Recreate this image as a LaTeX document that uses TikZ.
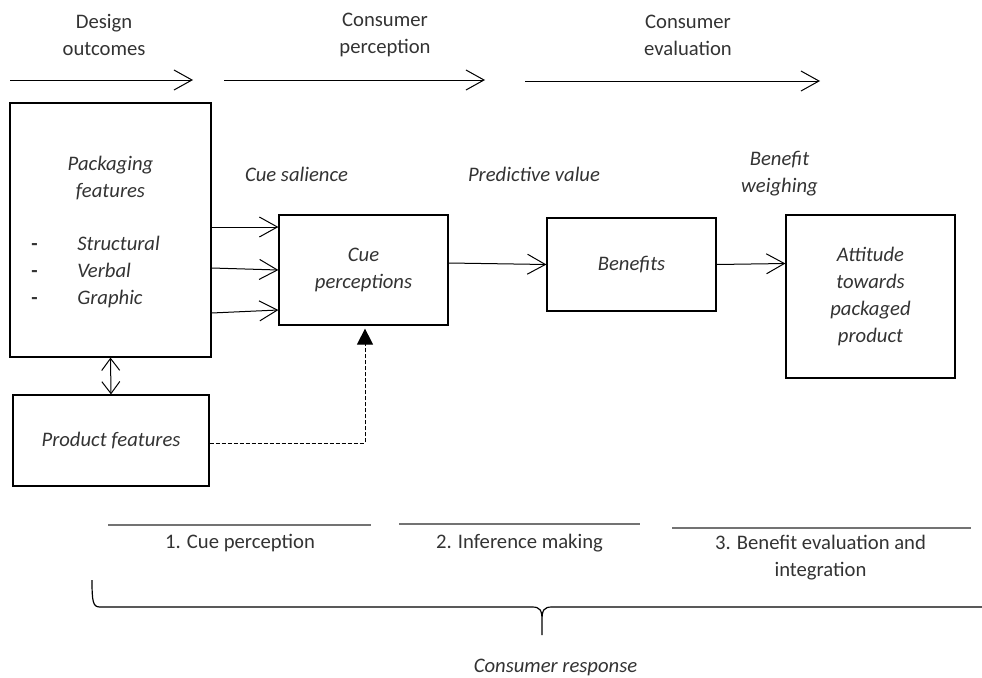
\documentclass[tikz,border=0pt]{standalone}
\usepackage{fontspec}
\setmainfont{Carlito}
\usetikzlibrary{arrows.meta, positioning, calc}
\newlength\pxu
\setlength\pxu{0.75pt}

\begin{document}
\begin{tikzpicture}[
    x=0.75pt, y=-0.75pt,
    every node/.style={text=black!80, font=\fontsize{15.5}{20.25}\selectfont, align=center, inner sep=0pt},
    box/.style={draw, line width=0.9pt, font=\fontsize{15.5}{20.25}\selectfont\itshape},
    note/.style={font=\fontsize{15.5}{20.25}\selectfont\itshape},
    flow/.style={-{Straight Barb[length=13.5pt, width=15pt]}, line width=0.75pt},
    biflow/.style={{Straight Barb[length=9pt, width=13.5pt]}-{Straight Barb[length=9pt, width=13.5pt]}, line width=0.75pt},
    hint/.style={dash pattern=on 3pt off 1.5pt, line width=0.75pt, -{Triangle[length=12pt, width=12pt]}},
    stage/.style={line width=1.5pt, draw=black!55}
]
\useasboundingbox (0,0) rectangle (982,678);

\node (design) at (104,35) {Design\\outcomes};
\node (perception) at (385,35) {Consumer\\perception};
\node (evaluation) at (688,35) {Consumer\\evaluation};

\coordinate (d0) at (10,80);
\coordinate (d1) at (193,80);
\coordinate (p0) at (224,80);
\coordinate (p1) at (485,80);
\coordinate (e0) at (525,81);
\coordinate (e1) at (820,81);
\draw[flow] (d0) -- (d1);
\draw[flow] (p0) -- (p1);
\draw[flow] (e0) -- (e1);

\node[box, minimum width=201\pxu, minimum height=254\pxu] (pack) at (110.5,230) {};
\node[note] (packtitle) at (110.5,178.5) {Packaging\\features};
\node[note, anchor=west, align=left] (packlist) at (31,272)
    {\makebox[46\pxu][l]{\upshape\bfseries -}Structural\\\makebox[46\pxu][l]{\upshape\bfseries -}Verbal\\\makebox[46\pxu][l]{\upshape\bfseries -}Graphic};
\node[box, minimum width=196\pxu, minimum height=91\pxu] (prod) at (111,440.5) {Product features};
\node[box, minimum width=169\pxu, minimum height=110\pxu] (cue) at (363.5,270) {Cue\\perceptions};
\node[box, minimum width=169\pxu, minimum height=93\pxu] (benefits) at (631.5,264.5) {Benefits};
\node[box, minimum width=169\pxu, minimum height=163\pxu] (attitude) at (870.5,296.5) {Attitude\\towards\\packaged\\product};

\node[note] (salience) at (296.5,174) {Cue salience};
\node[note] (predictive) at (534,174) {Predictive value};
\node[note] (weighing) at (779.5,173.5) {Benefit\\weighing};

\draw[flow] ([yshift=3\pxu]pack.east) -- ([yshift=43\pxu]cue.west);
\draw[flow] ([yshift=-38\pxu]pack.east) -- (cue.west);
\draw[flow] ([yshift=-83\pxu]pack.east) -- ([yshift=-40\pxu]cue.west);
\draw[flow] ([yshift=7\pxu]cue.east) -- (benefits.west);
\draw[flow] (benefits.east) -- ([yshift=33\pxu]attitude.west);
\draw[biflow] (pack.south) -- (prod.north);
\draw[hint] ([yshift=-2.5\pxu]prod.east) -| ([xshift=1.5\pxu, yshift=-3\pxu]cue.south);

\coordinate (s1a) at (108,525);
\coordinate (s1b) at (371,525);
\coordinate (s2a) at (399,524);
\coordinate (s2b) at (640,524);
\coordinate (s3a) at (672,528);
\coordinate (s3b) at (971,528);
\draw[stage] (s1a) -- (s1b);
\draw[stage] (s2a) -- (s2b);
\draw[stage] (s3a) -- (s3b);
\node (stage1) at (240,543) {1. Cue perception};
\node (stage2) at (519.5,543) {2. Inference making};
\node (stage3) at (820.5,558) {3. Benefit evaluation and\\integration};

\draw[line width=0.9pt] (92,580) .. controls (92,602) and (93,607) .. (100,607) -- (532,607)
    .. controls (540,607) and (542,610) .. (542,620) -- (542,635) -- (542,620)
    .. controls (542,610) and (544,607) .. (552,607) -- (982,607);
\node[note] (response) at (555.5,667) {Consumer response};

\end{tikzpicture}
\end{document}
